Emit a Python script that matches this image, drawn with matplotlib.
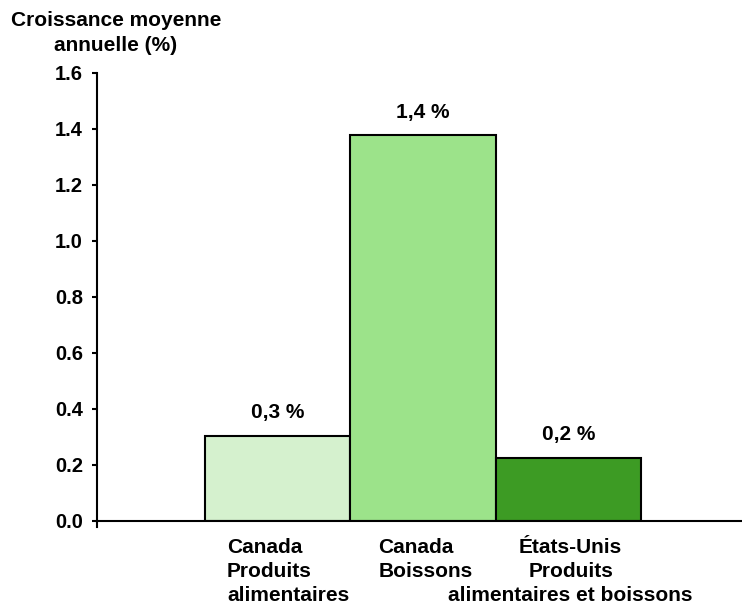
import matplotlib.pyplot as plt
import matplotlib.transforms as mtransforms

# data
categories = ["Canada\nProduits\nalimentaires", "Canada\nBoissons", "États-Unis\nProduits\nalimentaires et boissons"]
values = [0.305, 1.378, 0.226]
value_labels = ["0,3 %", "1,4 %", "0,2 %"]
colors = ["#D5F1CE", "#9CE38A", "#3D9B24"]

plt.rcParams['font.family'] = ['Liberation Sans', 'DejaVu Sans']
plt.rcParams['font.weight'] = 'bold'

fig = plt.figure(figsize=(7.42, 6.06), dpi=100)
ax = fig.add_axes([97 / 742, 1 - 521 / 606, 1 - 97 / 742, (521 - 73) / 606])

x = list(range(len(values)))
ax.bar(x, values, width=1.0, color=colors, edgecolor='black', linewidth=1.5)

for xi, v, lab in zip(x, values, value_labels):
    ax.annotate(lab, (xi, v), xytext=(0, 12.5), textcoords='offset points',
                ha='center', va='baseline', fontsize=15, fontweight='bold')

ax.set_xlim(-1.242, 3.191)
ax.set_ylim(0, 1.6)
ax.set_yticks([0, 0.2, 0.4, 0.6, 0.8, 1.0, 1.2, 1.4, 1.6])
ax.set_yticklabels([f"{t:.1f}" for t in ax.get_yticks()], fontsize=14.5, fontweight='bold')
ax.tick_params(axis='y', direction='out', length=3.6, width=1.5, pad=6.5)

ax.set_xticks(x)
ax.set_xticklabels(categories, fontsize=15, fontweight='bold', va='top', linespacing=1.34)
ax.tick_params(axis='x', length=0, pad=12)
labels = ax.get_xticklabels()
labels[0].set_multialignment('left')
labels[1].set_multialignment('left')
labels[2].set_multialignment('center')
shifts = [10.5, 2.5, 2]
for lab, dx in zip(labels, shifts):
    lab.set_transform(lab.get_transform() + mtransforms.ScaledTranslation(dx / 100, 0, fig.dpi_scale_trans))

# small tick at the left end of the x axis
ax.plot([-1.242, -1.242], [0, -0.02], color='black', lw=1.5, clip_on=False)

for s in ['top', 'right']:
    ax.spines[s].set_visible(False)
for s in ['left', 'bottom']:
    ax.spines[s].set_linewidth(1.5)

fig.text(116 / 742, 1 - 11 / 606, "Croissance moyenne\nannuelle (%)", ha='center', va='top',
         fontsize=15, fontweight='bold', linespacing=1.4)

fig.savefig("out.png", dpi=100)
